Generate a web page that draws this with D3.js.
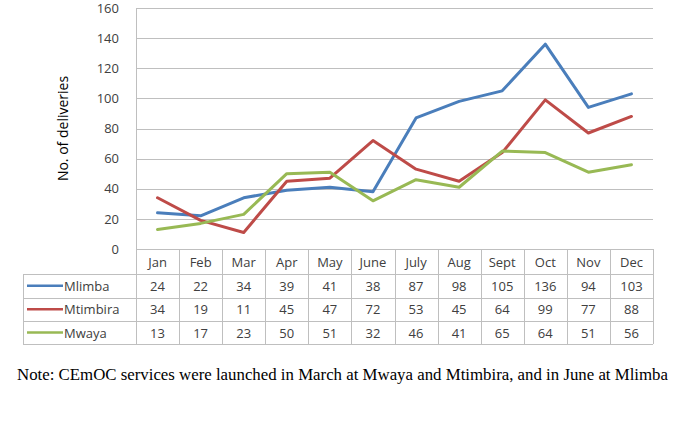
<!DOCTYPE html>
<html><head><meta charset="utf-8">
<script src="https://cdn.jsdelivr.net/npm/d3@7"></script>
<style>
html,body{margin:0;padding:0;background:#fff;}
svg{display:block;}
</style></head>
<body>
<script>
const months = ["Jan","Feb","Mar","Apr","May","June","July","Aug","Sept","Oct","Nov","Dec"];
const mlimba = [24,22,34,39,41,38,87,98,105,136,94,103];
const mtimbira = [34,19,11,45,47,72,53,45,64,99,77,88];
const mwaya = [13,17,23,50,51,32,46,41,65,64,51,56];
const seriesNames = ["Mlimba","Mtimbira","Mwaya"];
const seriesColors = ["#4A7EBB","#BE4B48","#98B954"];
const yTicks = [0,20,40,60,80,100,120,140,160];
const yLabel = "No. of deliveries";
const note = "Note: CEmOC services were launched in March at Mwaya and Mtimbira, and in June at Mlimba";

(function(){
const series = [mlimba, mtimbira, mwaya];
const W = 685, H = 421;
const pLeft = 136, pRight = 653, pTop = 8, pBottom = 249;
const tableLeft = 23;
const rowEdges = [249, 274, 297.5, 321, 344];

const svg = d3.select("body").append("svg").attr("width", W).attr("height", H);
const textColor = "#404040";
const gridColor = "#BFBFBF";
const sans = "'Open Sans', sans-serif";

const x = d3.scaleBand().domain(months).range([pLeft, pRight]);
const y = d3.scaleLinear().domain([0,160]).range([pBottom, pTop]);

// gridlines
svg.append("g").selectAll("line").data(yTicks).join("line")
  .attr("x1", pLeft).attr("x2", pRight)
  .attr("y1", d => Math.round(y(d)) + 0.5).attr("y2", d => Math.round(y(d)) + 0.5)
  .attr("stroke", gridColor).attr("stroke-width", 1);

// y axis labels
const yAxis = d3.axisLeft(y).tickValues(yTicks).tickSize(0).tickPadding(0);
const ya = svg.append("g").attr("transform", `translate(${pLeft - 17},0)`).call(yAxis);
ya.select(".domain").remove();
ya.selectAll("text").attr("font-family", sans).attr("font-size", 13).attr("fill", textColor);

// y axis line
svg.append("line").attr("x1", pLeft + 0.5).attr("x2", pLeft + 0.5).attr("y1", pTop).attr("y2", rowEdges[1])
  .attr("stroke", gridColor);

// y label
svg.append("text").attr("transform", `translate(67.5,${(pTop+pBottom)/2}) rotate(-90)`)
  .attr("text-anchor", "middle").attr("font-family", sans).attr("font-size", 14)
  .attr("fill", "#000").text(yLabel);

// table
const tg = svg.append("g");
rowEdges.forEach((ry, i) => {
  if (i === 0) return;
  tg.append("line").attr("x1", i === 1 ? pLeft : tableLeft).attr("x2", pRight)
    .attr("y1", Math.round(ry) + 0.5).attr("y2", Math.round(ry) + 0.5).attr("stroke", gridColor);
});
tg.append("line").attr("x1", tableLeft).attr("x2", pLeft)
  .attr("y1", rowEdges[1] + 0.5).attr("y2", rowEdges[1] + 0.5).attr("stroke", gridColor);
const colEdges = months.map(m => x(m)).concat([pRight]);
colEdges.forEach((cx, i) => {
  tg.append("line").attr("x1", Math.round(cx) + 0.5).attr("x2", Math.round(cx) + 0.5)
    .attr("y1", i === 0 ? pTop : rowEdges[0]).attr("y2", rowEdges[4]).attr("stroke", gridColor);
});
tg.append("line").attr("x1", tableLeft + 0.5).attr("x2", tableLeft + 0.5)
  .attr("y1", rowEdges[1]).attr("y2", rowEdges[4]).attr("stroke", gridColor);

// header text
tg.selectAll("text.mh").data(months).join("text").attr("class","mh")
  .attr("x", d => x(d) + x.bandwidth()/2).attr("y", (rowEdges[0]+rowEdges[1])/2 + 5)
  .attr("text-anchor", "middle").attr("font-family", sans).attr("font-size", 13)
  .attr("fill", textColor).text(d => d);

// rows
series.forEach((vals, si) => {
  const cy = (rowEdges[si+1] + rowEdges[si+2]) / 2;
  tg.append("line").attr("x1", 27).attr("x2", 63).attr("y1", cy).attr("y2", cy)
    .attr("stroke", seriesColors[si]).attr("stroke-width", 2.5);
  tg.append("text").attr("x", 64).attr("y", cy + 5).attr("font-family", sans)
    .attr("font-size", 13).attr("fill", textColor).text(seriesNames[si]);
  tg.selectAll(null).data(vals).join("text")
    .attr("x", (d, i) => x(months[i]) + x.bandwidth()/2).attr("y", cy + 5)
    .attr("text-anchor", "middle").attr("font-family", sans).attr("font-size", 13)
    .attr("fill", textColor).text(d => d);
});

// lines
const line = d3.line().x((d, i) => x(months[i]) + x.bandwidth()/2).y(d => y(d));
series.forEach((vals, si) => {
  svg.append("path").datum(vals).attr("d", line).attr("fill", "none")
    .attr("stroke", seriesColors[si]).attr("stroke-width", 3).attr("stroke-linejoin", "round")
    .attr("stroke-linecap", "round");
});

// note
svg.append("text").attr("x", 17).attr("y", 380)
  .attr("font-family", "Liberation Serif, Times New Roman, Times, serif")
  .attr("font-size", 16.5).attr("fill", "#000")
  .attr("textLength", 651).attr("lengthAdjust", "spacingAndGlyphs")
  .text(note);
})();
</script>
</body></html>
